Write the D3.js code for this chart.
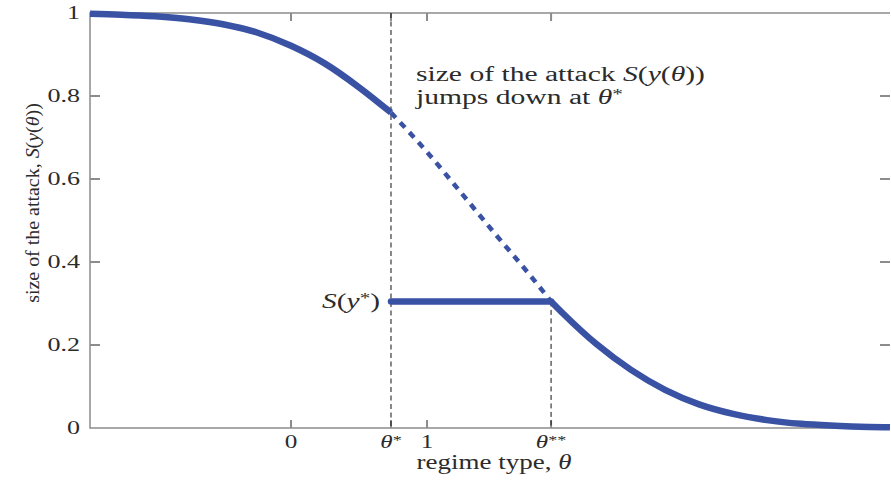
<!DOCTYPE html>
<html>
<head>
<meta charset="utf-8">
<script src="https://cdn.jsdelivr.net/npm/d3@7"></script>
<style>
html, body { margin: 0; padding: 0; background: #fff; }
svg { display: block; font-family: "Liberation Serif", "Times New Roman", serif; }
</style>
</head>
<body>
<div id="chart"></div>
<script>
// values
var thetaStar = 0.735;
var thetaStarStar = 1.912;
var sizeAtJump = 0.305;
var thetaDomain = [-1.478, 4.404];

var upperTheta = [-1.478, -1.25, -1.0, -0.75, -0.5, -0.25, 0, 0.25, 0.5, thetaStar];
var upperSize = [0.998, 0.996, 0.992, 0.985, 0.973, 0.953, 0.921, 0.878, 0.821, 0.760];
var dashedTheta = [thetaStar, 1.0, 1.25, 1.5, 1.75, thetaStarStar];
var dashedSize = [0.760, 0.665, 0.567, 0.468, 0.371, sizeAtJump];
var flatTheta = [thetaStar, thetaStarStar];
var flatSize = [sizeAtJump, sizeAtJump];
var lowerTheta = [thetaStarStar, 2.0, 2.25, 2.5, 2.75, 3.0, 3.25, 3.5, 3.75, 4.0, 4.25, 4.404];
var lowerSize = [sizeAtJump, 0.276, 0.201, 0.140, 0.092, 0.057, 0.034, 0.019, 0.010, 0.0055, 0.0027, 0.0017];

var xTicks = [0, thetaStar, 1, thetaStarStar];
var xTickLabels = ["0", "$θ*$", "1", "$θ**$"];
var yTicks = [0, 0.2, 0.4, 0.6, 0.8, 1];
var yTickLabels = ["0", "0.2", "0.4", "0.6", "0.8", "1"];

var xLabel = "regime type, $θ$";
var yLabel = "size of the attack, $S(y(θ))$";
var noteLines = ["size of the attack $S(y(θ))$", "jumps down at $θ*$"];
var jumpLabel = "$S(y*)$";

var AttackChart = function (params) {
    this.el = params.el;
    this.width = 891;
    this.height = 483;
    this.margin = {top: 13, right: 1, bottom: 55, left: 90};
    this.blue = "#3a52a3";
    this.grey = "#8c8c8c";
    this.ink = "#2b2b2b";
};

AttackChart.prototype.init = function () {
    this.svg = d3.select(this.el).append("svg")
        .attr("width", this.width)
        .attr("height", this.height);
    this.x = d3.scaleLinear()
        .domain(thetaDomain)
        .range([this.margin.left, this.width - this.margin.right]);
    this.y = d3.scaleLinear()
        .domain([0, 1])
        .range([this.height - this.margin.bottom, this.margin.top]);

    this.buildFrame();
    this.buildGuides();
    this.buildCurves();
    this.buildLabels();
};

AttackChart.prototype.buildFrame = function () {
    var x = this.x, y = this.y;
    var x0 = x.range()[0], x1 = x.range()[1];
    var y0 = y.range()[0], y1 = y.range()[1];
    var frame = this.svg.append("g")
        .attr("stroke", this.grey)
        .attr("fill", "none");

    frame.append("path")
        .attr("stroke-width", 1.5)
        .attr("d", "M" + x1 + "," + y1 + "H" + x0 + "V" + y0 + "H" + x1);

    frame.selectAll(".ytick")
        .data(yTicks.slice(1, -1))
        .enter().append("path")
        .attr("stroke-width", 2)
        .attr("d", function (d) {
            return "M" + x0 + "," + y(d) + "h10M" + (x1 - 10) + "," + y(d) + "h10";
        });

    frame.selectAll(".xtick")
        .data(xTicks)
        .enter().append("path")
        .attr("stroke-width", 2)
        .attr("d", function (d) {
            return "M" + x(d) + "," + y0 + "v-8M" + x(d) + "," + y1 + "v8";
        });
};

AttackChart.prototype.buildGuides = function () {
    var x = this.x, y = this.y;
    var guides = this.svg.append("g")
        .attr("stroke", "#111")
        .attr("stroke-width", 1)
        .attr("stroke-dasharray", "5,3.5");
    guides.append("line")
        .attr("x1", x(thetaStar)).attr("x2", x(thetaStar))
        .attr("y1", y(1)).attr("y2", y(0));
    guides.append("line")
        .attr("x1", x(thetaStarStar)).attr("x2", x(thetaStarStar))
        .attr("y1", y(sizeAtJump)).attr("y2", y(0));
};

AttackChart.prototype.buildCurves = function () {
    var x = this.x, y = this.y;
    var line = d3.line()
        .x(function (d) { return x(d[0]); })
        .y(function (d) { return y(d[1]); })
        .curve(d3.curveMonotoneX);
    var pairs = function (a, b) {
        return a.map(function (v, i) { return [v, b[i]]; });
    };
    var curves = this.svg.append("g")
        .attr("fill", "none")
        .attr("stroke", this.blue);

    curves.append("path")
        .attr("d", line(pairs(dashedTheta, dashedSize)))
        .attr("stroke-width", 4.5)
        .attr("stroke-dasharray", "7,6.5");
    curves.append("path")
        .attr("d", line(pairs(upperTheta, upperSize)))
        .attr("stroke-width", 6.5);
    curves.append("path")
        .attr("d", d3.line().x(line.x()).y(line.y())(pairs(flatTheta, flatSize)))
        .attr("stroke-width", 6.5)
        .attr("stroke-linecap", "round");
    curves.append("path")
        .attr("d", line(pairs(lowerTheta, lowerSize)))
        .attr("stroke-width", 6.5);
};

// "$...$" marks math: letters italic, "*" raised
AttackChart.prototype.mathText = function (text, str, size) {
    var parts = str.split("$");
    var shift = 0;
    text.attr("font-size", size);
    for (var i = 0; i < parts.length; i++) {
        var runs = i % 2 ? (parts[i].match(/\*+|[A-Za-zθ]+|[^A-Za-zθ*]+/g) || []) : [parts[i]];
        for (var j = 0; j < runs.length; j++) {
            var r = runs[j];
            if (!r) continue;
            var t = text.append("tspan").text(r);
            var lift = 0;
            if (i % 2 && r[0] === "*") {
                lift = -size * 0.25;
                t.attr("font-size", size * 0.72);
            }
            else if (i % 2 && /[A-Za-zθ]/.test(r)) {
                t.attr("font-style", "italic");
            }
            if (lift !== shift) t.attr("dy", lift - shift);
            shift = lift;
        }
    }
    return text;
};

// text in the reference is drawn wide, so each label gets a stretch along its run
AttackChart.prototype.addText = function (str, px, py, size, stretch, anchor, rotate) {
    var g = this.svg.append("g")
        .attr("transform", "translate(" + px + "," + py + ")" +
            (rotate ? "rotate(-90)" : "") + "scale(" + stretch + ",1)");
    var text = g.append("text")
        .attr("text-anchor", anchor)
        .attr("fill", this.ink);
    return this.mathText(text, str, size);
};

AttackChart.prototype.buildLabels = function () {
    var x = this.x, y = this.y;
    var self = this;

    yTicks.forEach(function (d, i) {
        self.addText(yTickLabels[i], 80, y(d) + 6, 18, 1.45, "end");
    });
    xTicks.forEach(function (d, i) {
        self.addText(xTickLabels[i], x(d), 448, 18, 1.4, "middle");
    });

    this.addText(xLabel, 494, 469, 20, 1.35, "middle");
    this.addText(yLabel, 39, 203, 19, 1.05, "middle", true);

    noteLines.forEach(function (s, i) {
        self.addText(s, 416, 81 + i * 23, 20, 1.48, "start");
    });
    this.addText(jumpLabel, 380, y(sizeAtJump) + 7, 21, 1.4, "end");
};

var chart = new AttackChart({el: document.getElementById("chart")});
chart.init();
</script>
</body>
</html>
